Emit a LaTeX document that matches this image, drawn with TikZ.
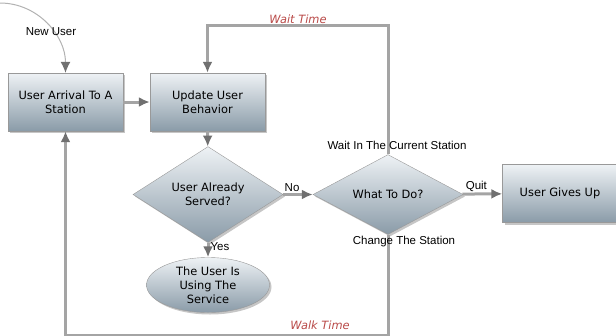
\documentclass[tikz,border=0pt]{standalone}
\usepackage{fontspec}
\setmainfont{DejaVu Sans}
\newfontfamily\labelfont{Liberation Sans}
\usepackage{tikz}
\usetikzlibrary{shapes.geometric,shadows,arrows.meta}
\definecolor{boxtop}{HTML}{EEF2F5}
\definecolor{boxbottom}{HTML}{8A9BA8}
\definecolor{linegray}{HTML}{A4A4A4}
\definecolor{tipgray}{HTML}{707070}
\definecolor{timered}{HTML}{B94A48}
\tikzset{
  >={Latex[length=11pt,width=10pt,color=tipgray]},
}
\tikzstyle{shaded}=[draw=gray!80,top color=boxtop,bottom color=boxbottom,
  drop shadow={shadow xshift=2pt,shadow yshift=-2pt,opacity=.45},
  font=\fontsize{11.4}{14}\selectfont,align=center,inner sep=0pt]
\tikzstyle{process}=[shaded,rectangle,minimum width=115pt,minimum height=58pt]
\tikzstyle{decision}=[shaded,diamond,minimum width=150pt,minimum height=75pt]
\tikzstyle{state}=[shaded,ellipse,minimum width=123pt,minimum height=55pt]
\tikzstyle{flow}=[line width=3pt,linegray,-{Latex[length=11pt,width=10pt,color=tipgray]}]
\tikzstyle{cond}=[font=\labelfont\fontsize{11.5}{13}\selectfont,text=black,inner sep=1pt]
\tikzstyle{timing}=[font=\itshape\fontsize{11.4}{13}\selectfont,text=timered,inner sep=1pt]

\begin{document}
\begin{tikzpicture}[x=1pt,y=-1pt]
    \useasboundingbox (0,0) rectangle (616,335);
    % nodes
    \node[process] (arrival) at (65.5,102) {User Arrival To A\\Station};
    \node[process] (update) at (207.5,102) {Update User\\Behavior};
    \node[decision] (served) at (208,194.5) {User Already\\Served?};
    \node[decision] (todo) at (388,194.5) {What To Do?};
    \node[process] (givesup) at (560,193.5) {User Gives Up};
    \node[state] (using) at (208,285) {The User Is\\Using The\\Service};
    \coordinate (newuser) at (0,3);
    % connectors
    \draw[line width=1pt,gray!60,->] (newuser) to[out=0,in=90] (arrival.north);
    \node[cond] (newlabel) at (51,32) {New User};
    \draw[flow] (arrival) -- (update);
    \draw[flow] (update) -- (served);
    \draw[flow] (served) -- (using) node[cond,pos=.3,right] (yes) {Yes};
    \draw[flow] (served) -- (todo) node[cond,pos=.3,above] (no) {No};
    \draw[flow] (todo) -- (givesup) node[cond,pos=.35,above] (quit) {Quit};
    \draw[flow] (todo.north) -- ++(0,-129) coordinate (waitcorner) -| (update.north);
    \node[timing] (waittime) at (298,19) {Wait Time};
    \draw[flow] (todo.south) -- ++(0,101) coordinate (walkcorner) -| (arrival.south);
    \node[timing] (walktime) at (320,325) {Walk Time};
    \node[cond] (waitlabel) at (397,145) {Wait In The Current Station};
    \node[cond] (changelabel) at (404,242) {Change The Station};
\end{tikzpicture}
\end{document}
